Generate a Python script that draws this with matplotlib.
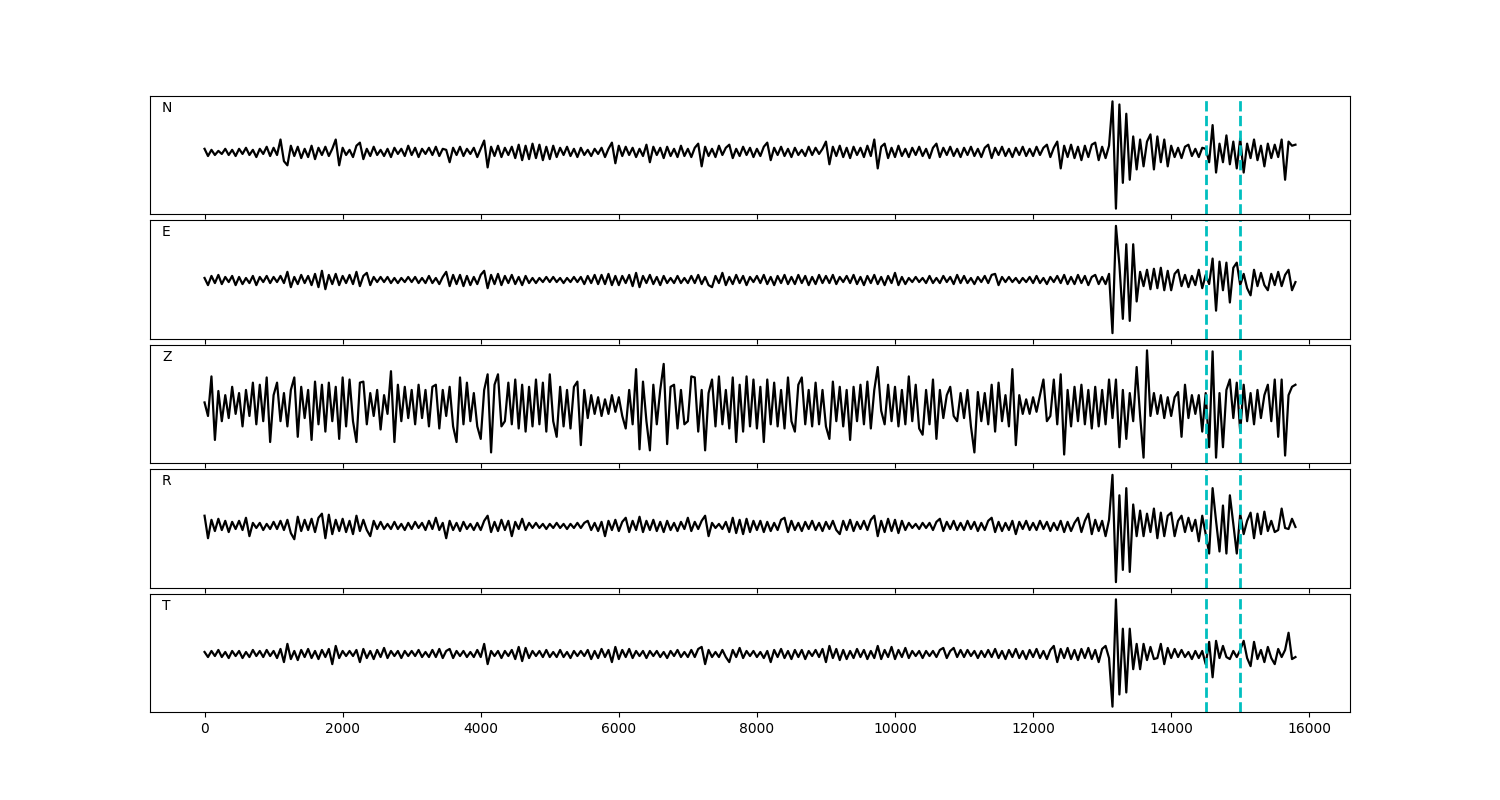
import numpy as np
import matplotlib
matplotlib.use('Agg')
import matplotlib.pyplot as plt

dt = 50
picks = [14500, 15000]
names = ['N', 'E', 'Z', 'R', 'T']

trace_n = [
    3, -4, 2, -3, 1, -2, 3, -3, 2, -4, 3, -2, 4, -3, 2, -5, 3, -2, 5, -4,
    4, -3, 12, -9, -13, 6, -4, 5, -6, 3, -5, 6, -7, 4, -3, 5, -4, 3, 12, -13,
    4, -3, 2, -5, 6, 9, -7, 3, -4, 5, -3, 2, -4, 3, -5, 4, -2, 3, -4, 6,
    -3, 4, -5, 3, -2, 4, -3, 5, -4, 3, 2, -10, 4, -3, 5, -4, 3, -2, 4, -5,
    3, 11, -15, 5, -4, 6, -5, 4, -3, 5, -6, 7, -8, 6, -7, 8, -6, 7, -8, 5,
    -7, 6, -5, 4, -3, 5, -4, 3, -5, 4, -3, 2, -4, 3, -2, 4, -5, 3, 9, -11,
    6, -4, 5, -3, 4, -5, 3, -4, 7, -10, 5, -3, 4, -6, 5, -4, 3, -5, 6, -4,
    3, -5, 4, 8, -14, 5, -4, 3, -5, 6, -3, 4, 7, -6, 3, -4, 5, -3, 4, -5,
    3, -4, 5, 9, -8, 4, -3, 5, -4, 3, -5, 4, -3, 2, -4, 5, -3, 4, -2, 3,
    10, -12, 5, -4, 6, -5, 4, -6, 5, -3, 4, -5, 6, -4, 12, -16, 5, 8, -6, 4,
    -5, 6, -4, 3, -5, 4, -3, 5, -4, 3, -6, 4, 8, -5, 4, -3, 5, -4, 3, -5,
    4, -3, 5, -4, 3, -5, 4, 7, -6, 4, -3, 5, -4, 3, -5, 4, -3, 5, -4, 3,
    -4, 5, -3, 4, 7, -5, 4, 10, -16, 6, -5, 7, -6, 5, -8, 6, -5, 7, 9, -8,
    5, -6, 6, 49, -55, 46, -30, 37, -27, 15, -17, 12, -14, 10, 17, -17, 15, -10, 12, -14,
    6, -5, 4, -6, 5, 7, -4, 3, -5, 4, 3, -10, 26, -20, 8, -10, 16, -12, 10, -16,
    13, -20, 8, -6, 12, -8, 6, -14, 8, -6, 7, -5, 12, -27, 10, 6, 7,
]

trace_e = [
    2, -5, 4, -3, 5, -4, 3, -2, 4, -5, 3, -4, 2, -3, 4, -5, 3, -2, 4, -3,
    3, -2, 4, -3, 8, -7, 3, -4, 5, -3, 4, -5, 6, -7, 9, -9, 5, -4, 6, -5,
    4, -3, 5, -4, 8, -6, 4, 7, -5, 3, -2, 3, -2, 3, -3, 2, -3, 2, -2, 3,
    -2, 3, -3, 2, -3, 4, -3, 2, -4, 3, 8, -6, 5, -4, 5, -6, 4, -5, 3, -4,
    5, 9, -8, 5, -4, 6, -5, 4, -3, 5, -4, 3, -5, 4, -3, 2, -3, 2, -2, 3,
    -2, 3, -2, 2, -3, 2, -2, 3, -2, 3, -4, 4, -3, 5, -4, 5, -4, 6, -5, 4,
    -5, 4, -3, 5, -6, 7, -7, 4, -3, 5, -4, 3, -5, 4, -3, 2, -3, 4, -3, 2,
    -3, 4, -3, 5, -4, 3, -5, -7, 4, -3, 7, -5, 3, -4, 5, -3, 4, -5, 3, -2,
    4, -3, 5, -4, 3, -5, 4, -3, 5, -4, 3, -4, 5, -3, 4, -5, 3, -4, 5, -3,
    4, -3, 5, -4, 3, -2, 4, -3, 5, -4, 3, -5, 4, -3, 5, -4, 3, -5, 4, -3,
    7, -5, 3, -4, 2, -2, 3, -2, 2, -3, 4, -3, 2, -3, 4, -2, 3, -4, 5, -3,
    4, -3, 2, -4, 3, -2, 4, -3, 5, 6, -5, 3, -2, 3, -2, 2, -3, 2, -2, 3,
    -3, 4, -3, 2, -4, 3, -2, 4, -3, 5, -4, 3, -4, 5, -3, 4, -5, 3, 5, -4,
    3, -4, 6, -52, 53, 15, -38, 35, -40, 35, -21, 8, -6, 10, -9, 11, -8, 12, -10, 9,
    -10, 6, 10, -6, 5, -7, 4, -5, 10, -8, 5, -4, 21, -30, 18, -10, 17, -22, 12, 17,
    -5, 6, -8, -15, 10, -6, 7, -5, -10, 6, -5, 8, -6, 5, 10, -10, -2,
]

trace_z = [
    3, -10, 28, -33, 14, -15, 10, -12, 18, -8, 12, -20, 15, -10, 22, -18, 20, -15, 27, -35,
    10, 22, -15, 12, -20, 15, 27, -30, 18, -12, 15, -33, 23, -18, 20, -25, 22, -15, 18, -32,
    27, -20, 25, -15, -35, 22, 23, -18, 12, -10, 15, -23, 10, -8, 33, -35, 20, -15, 18, -12,
    15, -18, 20, -12, 15, -20, 18, 20, -22, 15, -10, 18, -20, -35, 27, -18, 22, -15, 12, -20,
    -32, 15, 30, -45, 20, 30, -20, -15, 22, -18, 25, -22, 20, -25, 18, -20, 25, -18, 22, -25,
    30, -15, -30, 18, -20, 15, -22, 18, 23, -38, 15, -12, 10, -8, 8, -10, 6, -8, 10, -6,
    8, -10, -22, 15, -18, 35, -42, 23, -15, -43, 20, -18, 15, 40, -37, 18, 20, -22, 15, -18,
    -15, 28, 27, -25, 15, -43, 12, 25, -20, 28, -18, 15, -22, 27, -35, 20, -25, 28, -20, 25,
    -22, 18, -35, 25, -18, 22, -20, 15, -22, 27, -15, -25, 20, 27, -18, 15, -20, 22, -18, 15,
    -20, -32, 23, -15, 18, -20, 15, -33, 18, -15, 20, -18, 23, -22, 15, 37, -5, -18, 20, -15,
    18, -20, 15, -18, 28, -15, 20, -22, -28, 15, -18, 25, -32, 15, -12, 10, 18, -10, -15, 12,
    -12, 15, -20, -45, 13, -15, 12, -18, 20, -25, 22, -15, 10, -20, 35, -38, 10, -8, 6, -8,
    8, -6, 10, 25, -15, -10, 25, -18, 30, -47, 15, -20, 18, -15, 20, -18, 15, -22, 18, -20,
    15, -18, 25, -12, 25, -40, 15, -32, 12, -15, 37, -10, -50, 53, -10, 12, -8, 10, -12, 8,
    -10, 8, 13, -30, 20, -12, 10, -8, 10, -25, 12, -40, 52, -50, 12, -40, 15, 25, -12, 22,
    -25, 20, -15, 12, -18, 15, -12, 10, 20, -15, 25, -30, 25, -48, 10, 18, 20,
]

trace_r = [
    10, -12, 6, -5, 7, -4, 5, -6, 4, -3, 5, -4, 8, -10, 3, -2, 3, -4, 2, -3,
    4, -3, 5, -4, 6, -7, -13, 9, -5, 6, -4, 7, -6, 8, 12, -12, 11, -8, 6, -5,
    7, -6, 5, -8, 10, -5, 6, -4, -10, 5, -3, 4, -3, 2, -3, 4, -3, 2, -4, 3,
    -3, 4, -2, 3, -4, 5, -3, 8, -4, 3, -12, 5, -4, 3, -5, 4, -3, 2, -4, 3,
    -4, 5, 10, -6, 4, -5, 6, -4, 5, -10, 4, -3, 7, -4, 3, -2, 3, -2, 2, -3,
    2, -2, 3, -2, 2, -3, 2, -2, 3, -2, 3, 5, -4, 3, -5, 4, -10, 5, -4, 6,
    -5, 4, 8, -6, 5, -4, 9, -6, 5, -4, 6, -5, 4, -6, 5, -4, 3, -5, 4, -3,
    8, -5, 4, -3, 5, 10, -10, 3, -2, 2, -3, 4, -6, 8, -7, 6, -8, 7, -6, 5,
    -4, 5, -6, 4, -5, 3, -4, 6, 8, -6, 5, -4, 3, -5, 4, -3, 5, -4, 3, -5,
    4, -3, 5, -4, -8, 5, -4, 6, -5, 4, -3, 5, -4, 6, 10, -10, 5, -6, 7, -5,
    6, -7, 5, -4, 3, -2, 2, -3, 3, -2, 3, -4, 4, 7, -5, 4, -3, 5, -4, 3,
    -4, 5, -3, 4, -5, 3, -4, 5, 8, -6, 4, -5, 3, -4, 5, -8, 4, -3, 5, -4,
    3, -4, 5, -3, 4, -5, 3, -4, 5, -6, 4, -5, 3, 8, -6, 5, 12, -8, 6, -5,
    5, -10, 6, 50, -55, 30, -43, 37, -45, 21, -10, 15, -10, 12, -6, 17, -12, 13, -10, 10,
    13, -10, 5, 10, -6, 8, -5, 6, -15, 10, -8, -27, 37, 5, -25, 20, -27, 30, 2, -27,
    12, -8, 5, 13, -12, 12, -8, 14, -5, 5, -6, -4, 17, -2, -3, 7, -1,
]

trace_t = [
    2, -3, 3, -2, 4, -3, 2, -4, 3, -2, 3, -4, 2, -3, 4, -2, 3, -3, 4, -2,
    3, -4, 5, -8, 10, -5, 3, -6, 4, -3, 5, -4, 3, -5, 4, -3, 5, -10, 8, -4,
    3, -2, 3, -2, 4, -8, 5, -4, 3, -5, 4, -3, 6, -4, 3, -2, 3, -4, 3, -2,
    3, -2, 4, -3, 2, -3, 4, -3, 5, -4, 3, 5, -4, 3, -2, 3, -3, 2, -3, 4,
    -3, 10, -10, 3, -2, 3, -4, 3, -2, 4, -5, 7, -7, 6, -4, 3, -2, 3, -3, 4,
    -3, 2, -3, 4, -3, 2, -4, 3, -2, 3, -2, 4, -5, 3, -4, 5, -3, 4, -8, 7,
    -5, 4, -3, 5, -4, 3, -2, 3, -4, 3, -2, 3, -3, 2, -4, 3, -2, 4, -3, 2,
    -3, 4, -3, 5, 7, -10, 4, -3, 2, -3, 4, -3, -8, 4, -3, 6, -4, 3, -2, 3,
    -3, 2, -4, 3, -8, 4, -3, 5, -4, 3, -5, 4, -3, 4, -5, 3, -2, 4, -3, 5,
    -8, 8, -4, 5, -6, 4, -5, 3, -4, 5, -3, 4, -5, 3, -4, 8, -5, 4, -3, 7,
    -5, 4, -3, 6, -4, 3, -2, 3, -4, 3, -2, 3, -3, 4, 6, -4, 3, 6, -3, 4,
    -3, 4, -2, 3, -4, 3, -3, 4, -3, 5, -4, 3, -5, 4, -3, 5, -4, 3, -5, 4,
    -3, 5, -4, 3, -5, 4, 8, -8, 5, -4, 6, -5, 4, -6, 5, -4, 6, -5, 4, -8,
    5, 8, -4, -52, 54, -40, 25, -38, 25, -15, 10, -15, 10, -6, 7, -5, -4, 10, -10, 6,
    -4, 5, -3, 4, -3, 2, -5, 3, -4, 3, -10, 12, -23, 13, -4, 8, -3, -5, 3, -3,
    4, 13, -4, -12, 12, -5, 4, -8, 7, -4, -10, 5, -3, 4, 21, -5, -3,
]

traces = [trace_n, trace_e, trace_z, trace_r, trace_t]

fig, axes = plt.subplots(5, 1, sharex=True, figsize=(15, 8), dpi=100)
fig.subplots_adjust(left=0.1, right=0.9, bottom=0.11, top=0.88, hspace=0.055)

for ax, name, tr in zip(axes, names, traces):
    tr = np.asarray(tr, dtype=float)
    t = np.arange(len(tr)) * dt
    ax.plot(t, tr, color='k', lw=1.6)
    for p in picks:
        ax.axvline(p, color='c', ls='--', lw=2)
    ax.set_yticks([])
    ax.text(0.01, 0.9, name, transform=ax.transAxes, va='center', fontsize=10)

axes[-1].set_xticks([0, 2000, 4000, 6000, 8000, 10000, 12000, 14000, 16000])

fig.savefig('out.png')
